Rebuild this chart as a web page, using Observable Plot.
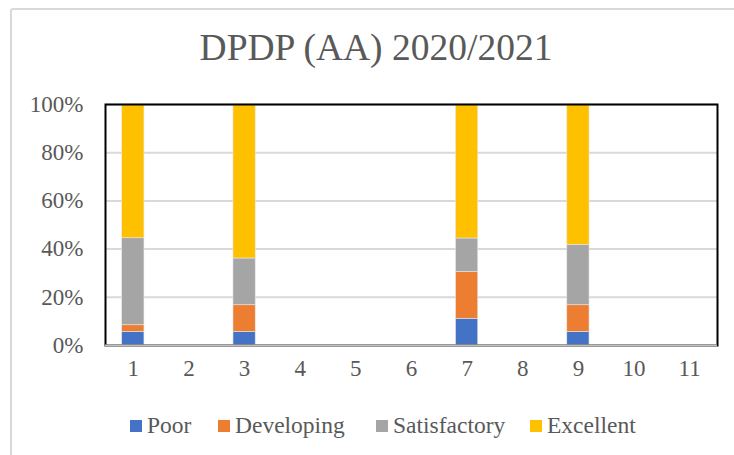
<!DOCTYPE html>
<html>
<head>
<meta charset="utf-8">
<script src="https://cdn.jsdelivr.net/npm/d3@7"></script>
<script src="https://cdn.jsdelivr.net/npm/@observablehq/plot@0.6"></script>
<style>
  html, body { margin: 0; padding: 0; background: #fff; }
  #wrap { position: relative; width: 734px; height: 455px; overflow: hidden; font-family: "Liberation Serif", "Times New Roman", serif; color: #595959; }
  #border { position: absolute; left: 10px; top: 8px; width: 740px; height: 470px; border: 2px solid #d9d9d9; border-radius: 3px; box-sizing: border-box; }
  #title { position: absolute; left: 126px; width: 500px; top: 28px; text-align: center; font-size: 37.5px; line-height: 40px; font-family: "Liberation Serif", serif; }
  #chart { position: absolute; left: 0; top: 80px; }
  .leg { position: absolute; top: 412px; font-size: 23.5px; line-height: 27px; white-space: nowrap; font-family: "Liberation Serif", serif; color: #595959; }
  .sw { display: inline-block; width: 12px; height: 12px; margin-right: 5px; vertical-align: 1px; }
</style>
</head>
<body>
<div id="wrap">
  <div id="border"></div>
  <div id="title">DPDP (AA) 2020/2021</div>
  <div id="chart"></div>
  <div id="legend"></div>
</div>
<script>
const title = "DPDP (AA) 2020/2021";
const categories = [1, 2, 3, 4, 5, 6, 7, 8, 9, 10, 11];
const seriesNames = ["Poor", "Developing", "Satisfactory", "Excellent"];
const seriesColors = ["#4472C4", "#ED7D31", "#A5A5A5", "#FFC000"];
const poor         = [5.6, 0, 5.6, 0, 0, 0, 11.1, 0, 5.6, 0, 0];
const developing   = [2.8, 0, 11.1, 0, 0, 0, 19.4, 0, 11.1, 0, 0];
const satisfactory = [36.1, 0, 19.4, 0, 0, 0, 13.9, 0, 25.0, 0, 0];
const excellent    = [55.5, 0, 63.9, 0, 0, 0, 55.6, 0, 58.3, 0, 0];
const yTicks = [0, 20, 40, 60, 80, 100];

const seriesValues = [poor, developing, satisfactory, excellent];
const rows = [];
categories.forEach((c, i) => {
  seriesNames.forEach((s, k) => {
    const v = seriesValues[k][i];
    if (v > 0) rows.push({cat: c, series: s, value: v});
  });
});

const serif = "'Liberation Serif', 'Times New Roman', serif";
const chart = Plot.plot({
  width: 734,
  height: 320,
  marginLeft: 105,
  marginRight: 17,
  marginTop: 24,
  marginBottom: 55,
  style: {fontFamily: serif, fontSize: "23px", color: "#595959", background: "transparent"},
  x: {domain: categories, paddingInner: 0.6, paddingOuter: 0.3, round: false, label: null},
  y: {domain: [0, 100], label: null},
  color: {domain: seriesNames, range: seriesColors},
  marks: [
    Plot.gridY(yTicks, {stroke: "#d9d9d9", strokeOpacity: 1, strokeWidth: 2}),
    Plot.barY(rows, {x: "cat", y: "value", fill: "series", stroke: "#e8e8e8", strokeWidth: 0.6}),
    Plot.frame({stroke: "#000", strokeWidth: 2}),
    Plot.ruleY([0], {stroke: "#bfbfbf", strokeWidth: 2}),
    Plot.axisX({tickSize: 0, tickPadding: 14, fontSize: 23, fill: "#595959", fontFamily: serif}),
    Plot.axisY({ticks: yTicks, tickFormat: d => d + "%", tickSize: 0, tickPadding: 22, fontSize: 23, fill: "#595959", fontFamily: serif})
  ]
});
document.getElementById("chart").appendChild(chart);

const legendLefts = [130, 218, 376, 530];
const legend = document.getElementById("legend");
seriesNames.forEach((s, k) => {
  const d = document.createElement("div");
  d.className = "leg";
  d.style.left = legendLefts[k] + "px";
  d.innerHTML = `<span class="sw" style="background:${seriesColors[k]}"></span>${s}`;
  legend.appendChild(d);
});
</script>
</body>
</html>
